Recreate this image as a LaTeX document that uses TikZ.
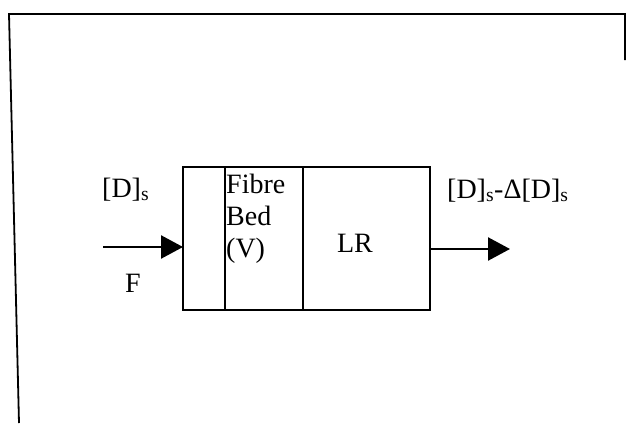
\documentclass[tikz,border=0pt]{standalone}
\usepackage{fontspec}
\setmainfont{Liberation Serif}
\usetikzlibrary{positioning,arrows.meta}

\begin{document}
\begin{tikzpicture}[x=1pt, y=-1pt, font=\fontsize{28}{32}\selectfont,
    cell/.style={draw, line width=1.8pt, minimum height=143pt, inner sep=0pt, outer sep=0pt},
    flow/.style={line width=2.4pt, -{Triangle[length=22pt, width=23pt]}}]
            \useasboundingbox (0,0) rectangle (628,423);
            \draw[line width=1.8pt] (19,423)--(9,14)--(625,14)--(625,60);
            \node[cell, minimum width=42pt] (inlet) at (204,238.5) {};
            \node[cell, minimum width=78pt, right=0pt of inlet] (bed) {};
            \node[cell, minimum width=127pt, right=0pt of bed] (lr) {};
            \node[anchor=north west, align=left, inner sep=1pt, yshift=-6pt] (bedtext) at (bed.north west) {Fibre\\Bed\\(V)};
            \node[anchor=base] (lrtext) at (355,252) {LR};
            \coordinate (in) at (103,247);
            \coordinate (out) at (510,249);
            \draw[flow] (in) -- (in -| inlet.west);
            \draw[flow] (out -| lr.east) -- (out);
            \node[anchor=base west, inner sep=0pt] (conc) at (102,197) {[D]\textsubscript{s}};
            \node[anchor=base west, inner sep=0pt] (rate) at (125,292) {F};
            \node[anchor=base west, inner sep=0pt] (concout) at (447,198) {[D]\textsubscript{s}-Δ[D]\textsubscript{s}};
        \end{tikzpicture}
\end{document}
